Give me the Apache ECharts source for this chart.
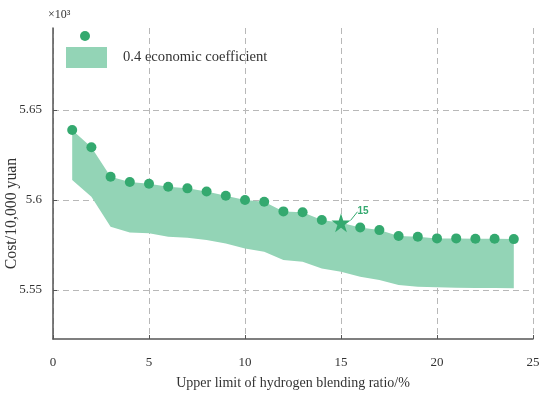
<!DOCTYPE html>
<html>
<head>
<meta charset="utf-8">
<script src="https://cdn.jsdelivr.net/npm/echarts@6/dist/echarts.min.js"></script>
<style>html,body{margin:0;padding:0;background:#fff}#c{width:550px;height:395px}</style>
</head>
<body>
<div id="c"></div>
<script>
const ratios = [1,2,3,4,5,6,7,8,9,10,11,12,13,14,15,16,17,18,19,20,21,22,23,24];
const costUpper = [5.6389,5.6293,5.6130,5.6100,5.6091,5.6074,5.6065,5.6048,5.6024,5.6000,5.5991,5.5937,5.5932,5.5889,5.5874,5.5848,5.5833,5.5800,5.5796,5.5787,5.5787,5.5785,5.5785,5.5783];
const costLower = [5.6111,5.6019,5.5852,5.5820,5.5815,5.5796,5.5791,5.5778,5.5759,5.5731,5.5713,5.5667,5.5657,5.5620,5.5602,5.5574,5.5556,5.5528,5.5518,5.5515,5.5513,5.5512,5.5511,5.5510];
const starRatio = 15;
const yTicks = [5.55, 5.60, 5.65];
const legendName = '0.4 economic coefficient';

const green = '#34a96f';
const band = '#93d4b6';
const gridColor = '#b8b8b8';
const textColor = '#333';
const serif = '"Liberation Serif","Times New Roman",serif';

const bandData = ratios.map((x, i) => [x, costLower[i], costUpper[i]]);
const ptsData = ratios.map((x, i) => [x, costUpper[i]]).filter(d => d[0] !== starRatio);
const starData = ratios.map((x, i) => [x, costUpper[i]]).filter(d => d[0] === starRatio);

const starPath = 'path://M50,0 L61.8,36.2 L100,36.2 L69.1,58.6 L80.9,95.1 L50,72.7 L19.1,95.1 L30.9,58.6 L0,36.2 L38.2,36.2 Z';

function renderBand(params, api) {
  if (params.dataIndex !== 0) return null;
  const top = [], bottom = [];
  for (let i = 0; i < bandData.length; i++) {
    top.push(api.coord([bandData[i][0], bandData[i][2]]));
    bottom.push(api.coord([bandData[i][0], bandData[i][1]]));
  }
  const pts = top.concat(bottom.reverse());
  return {
    type: 'polygon',
    shape: {points: pts},
    style: {fill: band, stroke: null}
  };
}

const chart = echarts.init(document.getElementById('c'), null, {renderer: 'canvas'});
chart.setOption({
  animation: false,
  backgroundColor: '#fff',
  title: {
    text: '×10³', left: 43, top: 4,
    textStyle: {fontFamily: serif, fontSize: 12, fontWeight: 'normal', color: textColor}
  },
  legend: [
    {
      data: [{name: 'pts', icon: 'circle'}],
      left: 80, top: 31, padding: 0, itemWidth: 10, itemHeight: 10,
      formatter: () => '', selectedMode: false
    },
    {
      data: [{name: legendName, icon: 'rect', itemStyle: {color: band}}],
      left: 66, top: 47, padding: 0, itemWidth: 41, itemHeight: 21, itemGap: 10,
      textStyle: {fontFamily: serif, fontSize: 14.6, color: textColor, padding: [0, 0, 10, 11]},
      selectedMode: false
    }
  ],
  grid: {left: 53, right: 17, top: 28, bottom: 56, containLabel: false, outerBoundsMode: 'none'},
  xAxis: {
    type: 'value', min: 0, max: 25, interval: 5,
    name: 'Upper limit of hydrogen blending ratio/%',
    nameLocation: 'middle', nameGap: 37,
    nameTextStyle: {fontFamily: serif, fontSize: 14, color: textColor},
    axisLine: {show: true, onZero: false, lineStyle: {color: '#555', width: 1.5}},
    axisTick: {show: true, inside: true, length: 4, lineStyle: {color: '#555'}},
    axisLabel: {fontFamily: serif, fontSize: 13, color: textColor, margin: 17},
    splitLine: {show: true, lineStyle: {color: gridColor, type: [6, 4], width: 1}}
  },
  yAxis: {
    type: 'value', min: 5.5228, max: 5.6956,
    name: 'Cost/10,000 yuan',
    nameLocation: 'middle', nameGap: 33, nameMoveOverlap: false,
    nameTextStyle: {fontFamily: serif, fontSize: 15.8, color: textColor, padding: [0, 60, 0, 0]},
    axisLine: {show: true, lineStyle: {color: '#555', width: 1.5}},
    axisTick: {show: true, inside: true, length: 4, customValues: yTicks, lineStyle: {color: '#555'}},
    axisLabel: {fontFamily: serif, fontSize: 13, color: textColor, margin: 11,
      customValues: yTicks, formatter: v => String(+v.toFixed(2))},
    splitLine: {show: true, lineStyle: {color: gridColor, type: [6, 4], width: 1}}
  },
  series: [
    {
      name: legendName, type: 'custom', data: bandData,
      encode: {x: 0, y: [1, 2]},
      renderItem: renderBand, itemStyle: {color: band}, silent: true, z: 2, clip: true
    },
    {
      name: 'pts', type: 'scatter', data: ptsData, symbol: 'circle', symbolSize: 10,
      itemStyle: {color: green, opacity: 1}, z: 3
    },
    {
      name: 'star', type: 'scatter', data: starData, symbol: starPath, symbolSize: 19,
      itemStyle: {color: green, opacity: 1}, z: 4,
      label: {show: true, formatter: '15', position: 'right', fontSize: 10, fontWeight: 'bold',
        fontFamily: 'Arial, "Liberation Sans", sans-serif', color: green},
      labelLayout: {dx: 2, dy: -11},
      labelLine: {show: true, length2: 0, lineStyle: {color: green, width: 1}}
    }
  ]
});
</script>
</body>
</html>
